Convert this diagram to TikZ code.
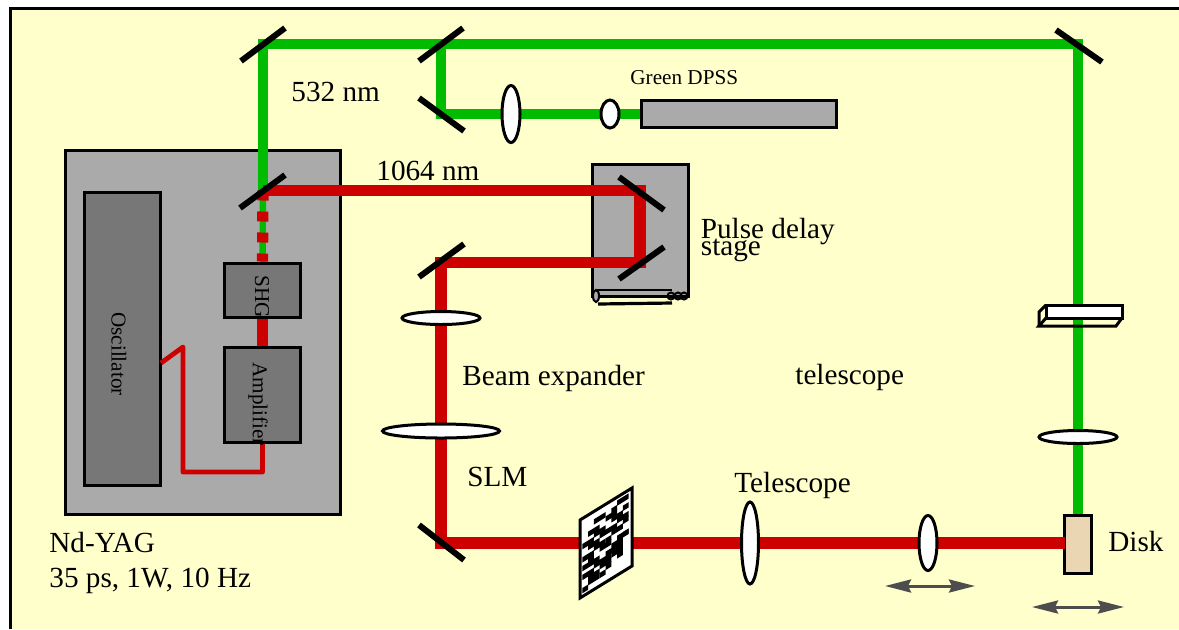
\documentclass[tikz,border=0pt]{standalone}
\usepackage{fontspec}
\setmainfont{Liberation Serif}
\usetikzlibrary{shapes.geometric,arrows.meta}

\definecolor{paper}{HTML}{FFFFCC}
\definecolor{stagegray}{HTML}{AAAAAA}
\definecolor{unitgray}{HTML}{777777}
\definecolor{beamgreen}{HTML}{00BB00}
\definecolor{beamred}{HTML}{CC0000}
\definecolor{diskcolor}{HTML}{EBD6B4}
\definecolor{movegray}{HTML}{4D4D4D}

\tikzset{
  greenbeam/.style={draw=beamgreen, line width=5.2pt},
  thingreen/.style={draw=beamgreen, line width=3.2pt},
  redbeam/.style={draw=beamred, line width=5.6pt},
  thinred/.style={draw=beamred, line width=2.4pt, line join=round},
  mirror/.style={draw=black, line width=3pt},
  lens/.style={ellipse, draw=black, fill=white, line width=1.5pt, inner sep=0pt},
  graybox/.style={rectangle, draw=black, fill=stagegray, line width=1.5pt, inner sep=0pt},
  unitbox/.style={rectangle, draw=black, fill=unitgray, line width=1.5pt, inner sep=0pt},
  biglabel/.style={anchor=base west, inner sep=0pt, font=\fontsize{14.6}{14.6}\selectfont},
  smalllabel/.style={inner sep=0pt, font=\fontsize{10.6}{10.6}\selectfont},
  movearrow/.style={draw=movegray, line width=1.5pt, {Stealth[length=13pt,width=6.5pt,inset=1.5pt]}-{Stealth[length=13pt,width=6.5pt,inset=1.5pt]}}
}

\begin{document}
\begin{tikzpicture}[x=0.5pt, y=-0.5pt]
  \useasboundingbox (0,0) rectangle (1179,629);

  % Paper
  \fill[paper] (10,8) rectangle (1179,629);
  \draw[black, line width=1.5pt] (1179,8) -- (10,8) -- (10,629);

  % Housings
  \node[graybox, minimum width=137.5pt, minimum height=182pt] (yag) at (203,332.5) {};
  \node[unitbox, minimum width=38pt, minimum height=146.5pt] (osc) at (122.5,339) {};
  \node[unitbox, minimum width=38pt, minimum height=27pt] (shg) at (262.5,290) {};
  \node[unitbox, minimum width=38pt, minimum height=47.5pt] (amp) at (262.5,395) {};
  \node[graybox, minimum width=48pt, minimum height=66pt] (stage) at (640.5,230) {};
  \node[graybox, minimum width=97.5pt, minimum height=13.5pt] (dpss) at (739,114) {};
  \node[rectangle, draw=black, fill=diskcolor, line width=1.5pt, inner sep=0pt,
    minimum width=13.5pt, minimum height=29pt] (disk) at (1078,544) {};

  % Delay rail
  \draw[black, line width=1.2pt] (597,290) -- (672,290) (597,296) -- (672,296);
  \draw[black, line width=1.6pt] (598,304) -- (672,303);
  \draw[black, line width=1pt, fill=stagegray] (596,296) ellipse (3 and 6);
  \foreach \x in {671,678,684} {
    \draw[black, line width=1pt] (\x,296) circle (3.5);
  }

  % Beam corners
  \coordinate (mone) at (263,44);
  \coordinate (mtwo) at (441,44);
  \coordinate (mthree) at (1078,44);
  \coordinate (mfour) at (441,114);
  \coordinate (split) at (263,190.5);
  \coordinate (delayup) at (640,190.5);
  \coordinate (delaylow) at (640,262.5);
  \coordinate (mfive) at (441,262.5);
  \coordinate (msix) at (441,543);
  \coordinate (hitdisk) at (1065,543);
  \coordinate (pumpa) at (262.5,472);
  \coordinate (pumpb) at (183,472);
  \coordinate (pumpc) at (183,347);
  \coordinate (pumpd) at (161,363);

  % Green beams
  \draw[greenbeam] (split) -- (mone) -- (mthree) -- (disk.north);
  \draw[greenbeam] (mtwo) -- (mfour) -- (dpss.west);
  \draw[thingreen] (split) -- (shg.north);

  % Red beams
  \draw[redbeam, dash pattern=on 5pt off 5.5pt] (split) -- (shg.north);
  \draw[redbeam] (shg.south) -- (amp.north);
  \draw[redbeam] (split) -- (delayup) -- (delaylow) -- (mfive) -- (msix) -- (hitdisk);
  \draw[thinred] (amp.south) -- (pumpa) -- (pumpb) -- (pumpc) -- (pumpd);

  % Mirrors
  \draw[mirror] (241,61) -- (285,28);
  \draw[mirror] (419,61) -- (463,28);
  \draw[mirror] (1056,30) -- (1102,62);
  \draw[mirror] (419,98) -- (464,131);
  \draw[mirror] (240,208) -- (285,175);
  \draw[mirror] (619,177) -- (664,210);
  \draw[mirror] (619,279) -- (664,247);
  \draw[mirror] (419,277) -- (464,244);
  \draw[mirror] (419,525) -- (464,560);

  % Lenses
  \node[lens, minimum width=9pt, minimum height=28.5pt] (lensa) at (511,114) {};
  \node[lens, minimum width=9pt, minimum height=14pt] (lensb) at (610,114) {};
  \node[lens, minimum width=39pt, minimum height=6.5pt] (lensc) at (441,318) {};
  \node[lens, minimum width=58.5pt, minimum height=7pt] (lensd) at (441,431) {};
  \node[lens, minimum width=8.5pt, minimum height=41pt] (lense) at (750,543) {};
  \node[lens, minimum width=9pt, minimum height=27.5pt] (lensf) at (928,543) {};
  \node[lens, minimum width=39pt, minimum height=6.5pt] (lensg) at (1078,437) {};

  % Crystal on the green arm
  \draw[black, line width=1.5pt] (1046,318) -- (1039,326) -- (1116,326) -- (1122,318);
  \draw[black, line width=1.5pt] (1039,326) -- (1039,312) -- (1046,305);
  \draw[black, line width=1.5pt, fill=white] (1046,305) rectangle (1122,318);

  % SLM
  \draw[black, line width=1.5pt, fill=white] (580,520) -- (632,488) -- (632,566) -- (580,598) -- cycle;
  \begin{scope}[shift={(580,520)}, x={(2.9pt,1.8pt)}, y={(0pt,-2.2pt)}]
    \foreach \i/\j/\w in {
      6/0/2, 2/1/2, 5/1/1, 4/2/2, 7/2/1, 1/3/2, 5/3/2, 2/4/2, 6/4/2, 0/5/2,
      3/5/3, 7/5/1, 1/6/2, 5/6/2, 2/7/2, 4/7/1, 6/8/2, 0/8/2, 3/8/2, 1/9/1,
      5/9/2, 7/8/1, 0/10/3, 4/10/2, 6/10/1, 2/11/3, 0/12/2, 5/11/2, 3/12/2,
      1/13/2, 4/13/1, 1/14/2, 3/14/1, 6/12/1, 0/15/1
    } {
      \fill[black] (\i+0.4,\j+0.8) -- ++(\w,0) -- ++(0,1.2) -- ++(-\w,0) -- cycle;
    }
  \end{scope}

  % Travel arrows
  \coordinate (lensfromleft) at (885,586);
  \coordinate (lensfromright) at (975,586);
  \coordinate (diskfromleft) at (1032,607);
  \coordinate (diskfromright) at (1124,607);
  \draw[movearrow] (lensfromleft) -- (lensfromright);
  \draw[movearrow] (diskfromleft) -- (diskfromright);

  % Labels
  \node[biglabel] (lgreen) at (291,101) {532 nm};
  \node[biglabel] (lred) at (376,180) {1064 nm};
  \node[smalllabel, anchor=base west] (ldpss) at (630,84) {Green DPSS};
  \node[biglabel] (lpulse) at (700.5,238) {Pulse delay};
  \node[biglabel] (lstage) at (700.5,255) {stage};
  \node[biglabel] (lexpand) at (462,385) {Beam expander};
  \node[biglabel] (lscope) at (795,384) {telescope};
  \node[biglabel] (lslm) at (467,486) {SLM};
  \node[biglabel] (ltele) at (734,492) {Telescope};
  \node[biglabel] (ldisk) at (1108,551) {Disk};
  \node[biglabel] (lyag) at (49,552) {Nd-YAG};
  \node[biglabel] (lspec) at (49,587) {35 ps, 1W, 10 Hz};
  \node[smalllabel, rotate=-90] (losc) at (119,354) {Oscillator};
  \node[smalllabel, rotate=-90] (lshg) at (262,297) {SHG};
  \node[smalllabel, rotate=-90] (lamp) at (258,404) {Amplifier};
\end{tikzpicture}
\end{document}
